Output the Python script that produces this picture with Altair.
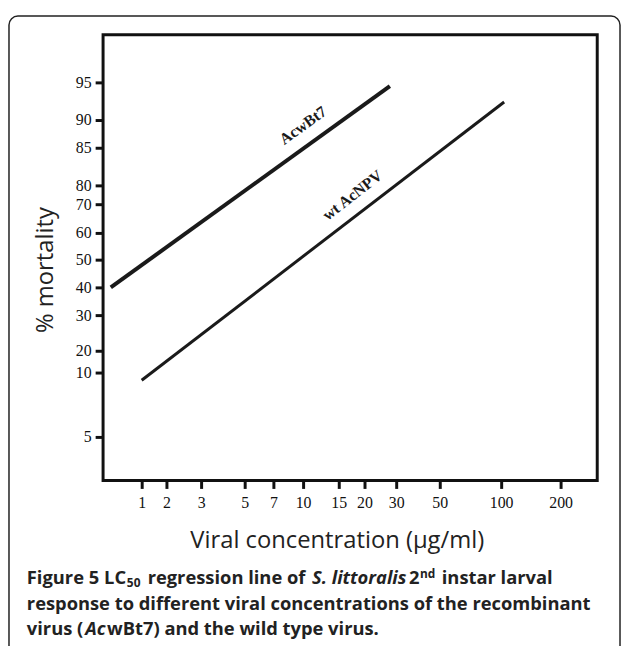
import altair as alt
import pandas as pd

# ---- axis tick values (irregular hand-drawn probit / log axes) ----
x_ticks = [1, 2, 3, 5, 7, 10, 15, 20, 30, 50, 100, 200]
y_ticks = [5, 10, 20, 30, 40, 50, 60, 70, 80, 85, 90, 95]

# piecewise scale breakpoints (value -> pixel inside plot area)
x_break_vals = [0.5, 1, 2, 3, 5, 7, 10, 15, 20, 30, 50, 100, 200, 400]
x_break_pos = [0, 39, 64, 99, 143, 172, 202, 238, 264, 296, 340, 402, 462, 499]
y_break_vals = [1, 5, 10, 20, 30, 40, 50, 60, 70, 80, 85, 90, 95, 99]
y_break_pos = [450, 406, 341, 319, 283, 255, 227, 200, 171, 152, 114, 86, 48, 0]

# ---- regression lines ----
series = ["AcwBt7", "wt AcNPV"]
conc_start = [0.6, 1.0]
conc_end = [28, 105]
mort_start = [40, 9.4]
mort_end = [94.5, 92.4]

# line labels (anchor in data units)
label_conc = [10, 17.7]
label_mort = [89, 74.7]

W, H = 499, 450

rows = []
for s, c0, c1, m0, m1 in zip(series, conc_start, conc_end, mort_start, mort_end):
    rows.append({"series": s, "conc": c0, "mort": m0})
    rows.append({"series": s, "conc": c1, "mort": m1})
lines_df = pd.DataFrame(rows)
labels_df = pd.DataFrame({"series": series, "conc": label_conc, "mort": label_mort})

xscale = alt.Scale(type="linear", domain=x_break_vals, range=x_break_pos, nice=False, zero=False)
yscale = alt.Scale(type="linear", domain=y_break_vals, range=y_break_pos, nice=False, zero=False)

xaxis = alt.Axis(
    values=x_ticks, format="d", grid=False, domain=False,
    tickColor="#111", tickWidth=3, tickSize=8,
    labelFont="Liberation Serif", labelFontSize=16, labelColor="#111",
    labelPadding=6, labelOverlap=False, labelFlush=False,
    title="Viral concentration (µg/ml)", titleFont="Open Sans", titleFontSize=24,
    titleFontWeight="normal", titleColor="#222", titleX=236, titleY=61,
    titleAlign="center", titleBaseline="middle",
)
yaxis = alt.Axis(
    values=y_ticks, format="d", grid=False, domain=False,
    tickColor="#111", tickWidth=3, tickSize=8,
    labelFont="Liberation Serif", labelFontSize=16, labelColor="#111",
    labelPadding=4, labelOverlap=False, labelFlush=False,
    title="% mortality", titleFont="Open Sans", titleFontSize=24,
    titleFontWeight="normal", titleColor="#222", titleX=-58, titleY=237,
    titleAngle=270, titleAlign="center", titleBaseline="middle",
)

base = alt.Chart(lines_df)
line_a = base.transform_filter(alt.datum.series == "AcwBt7").mark_line(
    color="#1a1a1a", strokeWidth=4, strokeCap="butt"
).encode(
    x=alt.X("conc:Q", scale=xscale, axis=xaxis),
    y=alt.Y("mort:Q", scale=yscale, axis=yaxis),
)
line_b = base.transform_filter(alt.datum.series == "wt AcNPV").mark_line(
    color="#1a1a1a", strokeWidth=3, strokeCap="butt"
).encode(x=alt.X("conc:Q", scale=xscale), y=alt.Y("mort:Q", scale=yscale))

lab = alt.Chart(labels_df)
lab_a = lab.transform_filter(alt.datum.series == "AcwBt7").mark_text(
    font="Liberation Serif", fontWeight="bold", fontSize=16, angle=324,
    color="#1a1a1a", align="center", baseline="middle"
).encode(x=alt.X("conc:Q", scale=xscale), y=alt.Y("mort:Q", scale=yscale), text="series:N")
lab_b = lab.transform_filter(alt.datum.series == "wt AcNPV").mark_text(
    font="Liberation Serif", fontWeight="bold", fontSize=16, angle=322,
    color="#1a1a1a", align="center", baseline="middle"
).encode(x=alt.X("conc:Q", scale=xscale), y=alt.Y("mort:Q", scale=yscale), text="series:N")

# ---- outer rounded figure box ----
box = alt.Chart(pd.DataFrame({"k": [0]})).mark_rect(
    fillOpacity=0, stroke="#222", strokeWidth=1.5, cornerRadius=9
).encode(x=alt.value(-95), x2=alt.value(522), y=alt.value(-19), y2=alt.value(720))

# ---- caption (rich text split into styled segments) ----
cap_text = ["Figure 5", "LC", "50", "regression line of", "S. littoralis", "2", "nd", "instar larval",
            "response to different viral concentrations of the recombinant",
            "virus (", "Ac", "wBt7) and the wild type virus."]
cap_x = [-77, 1, 24, 45, 211, 309, 320, 342, -77, -77, -18, 4]
cap_y = [555, 555, 558, 555, 555, 555, 548, 555, 581, 606, 606, 606]
cap_size = [18.5, 18.5, 12, 18.5, 18.5, 18.5, 12, 18.5, 18.5, 18.5, 18.5, 18.5]
cap_style = ["normal", "normal", "normal", "normal", "italic", "normal", "normal", "normal",
             "normal", "normal", "italic", "normal"]

cap_layers = []
for t, cx, cy, fs, st in zip(cap_text, cap_x, cap_y, cap_size, cap_style):
    cap_layers.append(
        alt.Chart(pd.DataFrame({"t": [t]})).mark_text(
            font="Open Sans", fontWeight="bold", fontSize=fs, fontStyle=st,
            color="#222", align="left", baseline="alphabetic"
        ).encode(x=alt.value(cx), y=alt.value(cy), text="t:N")
    )

chart = alt.layer(box, line_a, line_b, lab_a, lab_b, *cap_layers).properties(
    width=W, height=H,
    autosize=alt.AutoSizeParams(type="none"),
    padding={"left": 96, "top": 24, "right": 24, "bottom": 164},
    background="white",
).configure_view(stroke="#111", strokeWidth=3)

chart.save("out.html", embed_options={"renderer": "svg", "actions": False})
